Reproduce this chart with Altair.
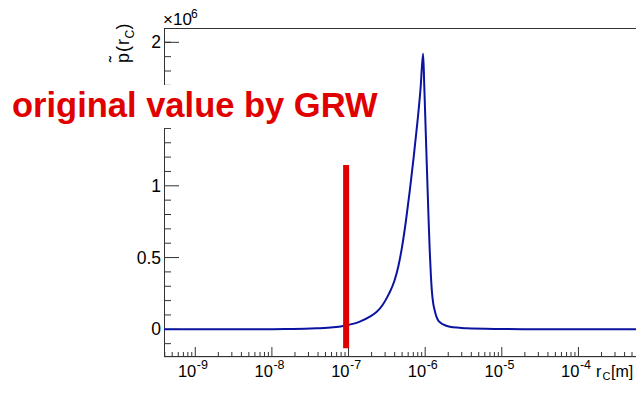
import altair as alt
import pandas as pd

# ---- data ----
log_r = [-9.408, -8.5, -8.0, -7.726, -7.417, -7.2, -7.070, -6.853, -6.722, -6.635,
         -6.549, -6.47, -6.40, -6.35, -6.30, -6.25, -6.20, -6.15, -6.10, -6.06,
         -6.027, -6.012, -6.000, -5.985, -5.970, -5.955, -5.940, -5.925, -5.910, -5.895,
         -5.875, -5.853, -5.83, -5.80, -5.76, -5.679, -5.549, -5.462, -5.027, -4.5, -3.249]
p_vals = [0.0, 0.0, 0.001, 0.002, 0.007, 0.014, 0.023, 0.053, 0.088, 0.12,
          0.175, 0.25, 0.34, 0.44, 0.58, 0.76, 0.97, 1.20, 1.45, 1.68,
          1.92, 1.70, 1.50, 1.25, 1.00, 0.76, 0.54, 0.37, 0.25, 0.18,
          0.13, 0.088, 0.062, 0.046, 0.032, 0.018, 0.011, 0.007, 0.002, 0.0, 0.0]

grw_r = [9.3e-8]
grw_top = [1.145]
grw_bottom = [-0.132]

x_exponents = [-9, -8, -7, -6, -5, -4]
x_minor_exponents = [-10, -9, -8, -7, -6, -5, -4]
x_minor_mult = [2, 3, 4, 5, 6, 7, 8, 9]
y_major = [0, 0.5, 1, 1.5, 2]
y_major_labels = ["0", "0.5", "1", "", "2"]   # 1.5 is hidden under the annotation
y_minor = [-0.1, 0.1, 0.2, 0.3, 0.4, 0.6, 0.7, 0.8, 0.9, 1.1, 1.2, 1.3, 1.4,
           1.6, 1.7, 1.8, 1.9, 2.0]

W, H = 472, 329
LOG_MIN, LOG_MAX = -9.408, -3.249
FONT = "Liberation Sans, Arial, Helvetica, sans-serif"
BLUE = "#0a14a0"
RED = "#e00000"

x_scale = alt.Scale(type="log", domain=[10 ** LOG_MIN, 10 ** LOG_MAX])
y_scale = alt.Scale(domain=[-0.193, 2.0997], zero=False, nice=False)

curve = pd.DataFrame({"r": [10 ** v for v in log_r], "p": p_vals})
grw = pd.DataFrame({"r": grw_r, "p": grw_top, "p2": grw_bottom})
xmaj = pd.DataFrame({"r": [10.0 ** e for e in x_exponents],
                     "base": ["10"] * len(x_exponents),
                     "exp": ["-" + str(-e) for e in x_exponents]})
xmin_vals = [m * 10.0 ** e for e in x_minor_exponents for m in x_minor_mult]
xmin_vals = [v for v in xmin_vals if 10 ** LOG_MIN <= v <= 10 ** LOG_MAX]
xmin = pd.DataFrame({"r": xmin_vals})
ymaj = pd.DataFrame({"p": y_major, "lab": y_major_labels})
ymin = pd.DataFrame({"p": y_minor})
one = pd.DataFrame({"a": [0]})

X = alt.X("r:Q", scale=x_scale, axis=None)
Y = alt.Y("p:Q", scale=y_scale, axis=None)

layers = []

# frame lines
frame_col = "#333333"
layers.append(alt.Chart(one).mark_rule(color=frame_col, strokeWidth=1).encode(
    x=alt.value(0), x2=alt.value(W), y=alt.value(0.5)))
layers.append(alt.Chart(one).mark_rule(color=frame_col, strokeWidth=1).encode(
    x=alt.value(0.5), y=alt.value(0), y2=alt.value(H)))
layers.append(alt.Chart(one).mark_rule(color=frame_col, strokeWidth=1).encode(
    x=alt.value(0), x2=alt.value(W), y=alt.value(H - 0.5)))

# x ticks (inward)
layers.append(alt.Chart(xmaj).mark_rule(color=frame_col, strokeWidth=1).encode(
    x=X, y=alt.value(H), y2=alt.value(H - 10)))
layers.append(alt.Chart(xmin).mark_rule(color=frame_col, strokeWidth=1).encode(
    x=X, y=alt.value(H), y2=alt.value(H - 5)))
# y ticks (inward)
layers.append(alt.Chart(ymaj).mark_rule(color=frame_col, strokeWidth=1).encode(
    y=Y, x=alt.value(0), x2=alt.value(15)))
layers.append(alt.Chart(ymin).mark_rule(color=frame_col, strokeWidth=1).encode(
    y=Y, x=alt.value(0), x2=alt.value(7)))

# curve
layers.append(alt.Chart(curve).mark_line(color=BLUE, strokeWidth=2, interpolate="monotone",
                                         clip=True).encode(x=X, y=Y))
# GRW line
layers.append(alt.Chart(grw).mark_rule(color=RED, strokeWidth=6, strokeCap="butt").encode(
    x=X, y=Y, y2="p2:Q"))

# x labels
layers.append(alt.Chart(xmaj).mark_text(font=FONT, fontSize=16.5, align="right",
                                        baseline="alphabetic", dx=1, color="black").encode(
    x=X, y=alt.value(349), text="base:N"))
layers.append(alt.Chart(xmaj).mark_text(font=FONT, fontSize=12.5, align="left",
                                        baseline="alphabetic", dx=1.5, color="black").encode(
    x=X, y=alt.value(340.5), text="exp:N"))
# y labels
layers.append(alt.Chart(ymaj).mark_text(font=FONT, fontSize=17.5, align="right",
                                        baseline="middle", dx=-3, dy=1, color="black").encode(
    y=Y, x=alt.value(0), text="lab:N"))


def txt(s, x, y, size, angle=0, align="left", weight="normal", color="black"):
    kw = dict(text=s, font=FONT, fontSize=size, align=align, baseline="alphabetic",
              fontWeight=weight, color=color)
    if angle:
        kw["angle"] = angle
    return alt.Chart(one).mark_text(**kw).encode(x=alt.value(x), y=alt.value(y))


# x10^6
layers.append(txt("\u00d710", -1, -3, 17))
layers.append(txt("6", 27, -10, 12))

# y title  p~(r_C)
layers.append(txt("p", -35, 35, 18, angle=270))
layers.append(txt("\u02dc", -42, 34, 18, angle=270))
layers.append(txt("(", -35, 24, 18, angle=270))
layers.append(txt("r", -35, 17, 18, angle=270))
layers.append(txt("C", -30, 10.5, 12, angle=270))
layers.append(txt(")", -35, 1.5, 18, angle=270))

# x title r_C [m]
layers.append(txt("r", 432, 348.5, 16))
layers.append(txt("C", 438.5, 352, 11))
layers.append(txt("[m]", 447, 348.5, 16))

# white box and annotation
layers.append(alt.Chart(one).mark_rect(color="white").encode(
    x=alt.value(-156), x2=alt.value(222), y=alt.value(57), y2=alt.value(100)))
layers.append(txt("original value by GRW", -152, 89.3, 34.5, weight="bold", color=RED))

chart = alt.layer(*layers).properties(
    width=W, height=H,
    autosize=alt.AutoSizeParams(type="none"),
    padding={"left": 156, "top": 20, "right": 0, "bottom": 25},
).configure_view(stroke=None).configure(background="white")

chart.save("out.html", embed_options={"renderer": "svg", "actions": False})
